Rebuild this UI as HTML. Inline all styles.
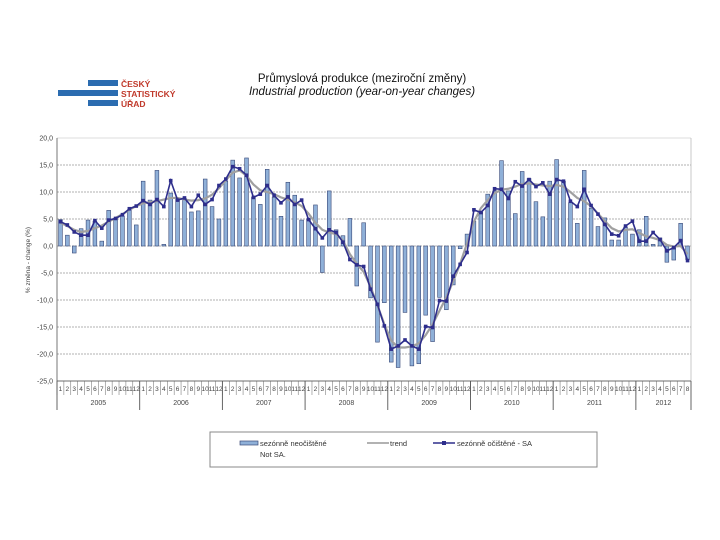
<!DOCTYPE html>
<html><head><meta charset="utf-8"><style>
body{margin:0;background:#fff;width:720px;height:540px;overflow:hidden;font-family:"Liberation Sans",sans-serif}
svg{position:absolute;left:0;top:0}
</style></head><body>
<svg id="c" width="720" height="540">
<g>
<rect x="88" y="80" width="30" height="6" fill="#2b6cb0"/>
<rect x="58" y="90" width="60" height="6" fill="#2b6cb0"/>
<rect x="88" y="100" width="30" height="6" fill="#2b6cb0"/>
<text x="121" y="87" font-size="8.5" font-weight="bold" fill="#c0392b">ČESKÝ</text>
<text x="121" y="97" font-size="8.5" font-weight="bold" fill="#c0392b">STATISTICKÝ</text>
<text x="121" y="107" font-size="8.5" font-weight="bold" fill="#c0392b">ÚŘAD</text>
</g>
<text x="362" y="82" font-size="11.5" text-anchor="middle" fill="#111">Průmyslová produkce (meziroční změny)</text>
<text x="362" y="95" font-size="11.5" font-style="italic" text-anchor="middle" fill="#111">Industrial production (year-on-year changes)</text>
<text transform="translate(30,260) rotate(-90)" font-size="6.5" text-anchor="middle" fill="#444">% změna - change (%)</text>
<g id="plot"></g>
<g>
<rect x="210" y="432" width="387" height="35" fill="#fff" stroke="#888"/>
<rect x="240" y="441" width="18" height="4" fill="#8fb0d8" stroke="#3a4a78" stroke-width="0.7"/>
<text x="260" y="446" font-size="7.5" fill="#333">sezónně neočištěné</text>
<text x="260" y="457" font-size="7.5" fill="#333">Not SA.</text>
<line x1="367" y1="443" x2="389" y2="443" stroke="#999" stroke-width="1.5"/>
<text x="390" y="446" font-size="7.5" fill="#333">trend</text>
<line x1="433" y1="443" x2="455" y2="443" stroke="#2e2e8c" stroke-width="1.5"/>
<rect x="442" y="441" width="4" height="4" fill="#2e2e8c"/>
<text x="457" y="446" font-size="7.5" fill="#333">sezónně očištěné - SA</text>
</g>
</svg>
<script>
const years=["2005","2006","2007","2008","2009","2010","2011","2012"];
const yTicks=[20,15,10,5,0,-5,-10,-15,-20,-25];
const nsa=[4.9,2.0,-1.3,3.2,4.8,4.6,0.9,6.6,5.1,5.5,6.7,3.9,
12.0,8.5,14.0,0.3,9.8,8.8,8.8,6.3,6.5,12.4,7.3,5.0,
12.0,15.9,12.6,16.3,9.0,7.7,14.2,9.0,5.5,11.8,9.4,4.8,
5.0,7.6,-4.9,10.2,3.0,1.9,5.1,-7.4,4.3,-9.6,-17.8,-10.5,
-21.5,-22.5,-12.3,-22.2,-21.8,-12.8,-17.7,-9.5,-11.8,-7.2,-0.5,2.2,
4.6,6.3,9.6,10.2,15.8,10.2,6.0,13.8,12.5,8.2,5.4,12.0,
16.0,12.0,8.0,4.2,14.0,7.0,3.6,5.2,1.1,1.1,3.5,2.2,
3.0,5.5,0.3,1.5,-3.0,-2.6,4.2,-2.5];
const sa=[4.5,3.9,2.6,2.0,2.0,4.7,3.3,4.8,5.1,5.8,6.9,7.4,
8.4,7.7,8.6,7.3,12.1,8.5,8.9,7.3,9.4,7.7,8.6,11.2,
12.4,14.7,14.3,13.1,9.0,9.6,11.2,9.4,8.0,9.1,7.7,8.5,
4.9,3.2,1.5,3.0,2.5,0.7,-2.5,-3.5,-3.8,-8.0,-10.8,-14.8,
-19.1,-18.5,-17.4,-18.5,-19.1,-14.9,-15.1,-10.1,-10.2,-5.6,-3.4,-1.2,
6.7,6.2,7.5,10.6,10.5,8.8,11.9,11.1,12.3,11.0,11.7,9.6,
12.3,12.0,8.3,7.3,10.5,7.5,5.9,4.0,2.2,1.9,3.7,4.6,
0.9,0.9,2.5,1.2,-0.9,-0.3,1.0,-2.7];
const trend=[4.3,3.7,3.0,2.6,2.8,3.3,3.8,4.5,5.2,5.9,6.7,7.4,
7.9,8.1,8.3,8.6,8.9,8.9,8.6,8.4,8.5,8.8,9.5,10.7,
12.2,13.6,14.0,13.0,11.4,10.3,10.0,9.6,9.0,8.6,8.1,7.4,
6.0,4.3,3.0,2.5,2.2,1.0,-1.5,-3.3,-4.8,-7.5,-11.0,-14.5,
-17.5,-18.8,-18.8,-18.6,-18.0,-16.5,-14.5,-12.0,-9.5,-6.5,-3.3,0.5,
4.5,7.0,8.5,9.8,10.4,10.6,11.0,11.5,11.6,11.4,11.2,11.1,
11.3,11.0,10.0,8.9,8.3,7.4,6.0,4.6,3.3,2.7,3.0,3.1,
2.4,1.8,1.5,1.1,0.2,-0.1,0.0,-1.5];
const NS="http://www.w3.org/2000/svg";
const L=57,R=691,T=138,B=381,N=nsa.length;
const step=(R-L)/N;
function xPos(i){return L+(i+0.5)*step;}
function yPos(v){return T+(20-v)*(B-T)/45;}
const g=document.getElementById('plot');
function mk(tag,attrs){const e=document.createElementNS(NS,tag);for(const k in attrs)e.setAttribute(k,attrs[k]);g.appendChild(e);return e;}
yTicks.forEach(v=>{
 const ln=mk('line',{x1:L,x2:R,y1:yPos(v),y2:yPos(v),stroke:v==20?'#bbb':'#666','stroke-width':0.6,'stroke-dasharray':v==20||v==-25?'':'2,1'});
 
 
 const t=mk('text',{x:L-4,y:yPos(v)+2.5,'font-size':7,'text-anchor':'end',fill:'#444'});
 t.textContent=v.toFixed(1).replace('.',',');
 
 
});
const rb=mk('line',{x1:R,x2:R,y1:T,y2:B,stroke:'#bbb','stroke-width':0.8});


const bw=step*0.55;
nsa.forEach((v,i)=>{
 const y0=yPos(0),y1=yPos(v);
 const r=mk('rect',{x:xPos(i)-bw/2,y:Math.min(y0,y1),width:bw,height:Math.abs(y1-y0),fill:'#8fb0d8',stroke:'#3a4a78','stroke-width':0.6});
 
 
});
const tp=mk('polyline',{points:trend.map((v,i)=>xPos(i)+','+yPos(v)).join(' '),fill:'none',stroke:'#a0a0a0','stroke-width':2.2});


const sp=mk('polyline',{points:sa.map((v,i)=>xPos(i)+','+yPos(v)).join(' '),fill:'none',stroke:'#2e2e8c','stroke-width':1.6});


sa.forEach((v,i)=>{
 const m=mk('rect',{x:xPos(i)-1.8,y:yPos(v)-1.8,width:3.6,height:3.6,fill:'#2e2e8c'});
 
 
});
const ax=mk('line',{x1:L,x2:L,y1:T,y2:B,stroke:'#555','stroke-width':0.8});


const xa=mk('line',{x1:L,x2:R,y1:B,y2:B,stroke:'#555','stroke-width':0.8});


for(let i=0;i<N;i++){
 const tk=mk('line',{x1:L+i*step,x2:L+i*step,y1:B,y2:B+14,stroke:'#666','stroke-width':0.5});
 
 
 const t=mk('text',{x:xPos(i),y:B+10,'font-size':6.5,'text-anchor':'middle',fill:'#444'});
 t.textContent=String(i%12+1);
 
 
}
years.forEach((y,k)=>{
 const s=k*12,e=Math.min(N,s+12);
 const tk=mk('line',{x1:L+s*step,x2:L+s*step,y1:B,y2:B+29,stroke:'#555','stroke-width':0.9});
 
 
 const t=mk('text',{x:L+(s+e)/2*step,y:B+24,'font-size':7,'text-anchor':'middle',fill:'#444'});
 t.textContent=y;
 
 
});
const et=mk('line',{x1:R,x2:R,y1:B,y2:B+29,stroke:'#555','stroke-width':0.9});


</script>
</body></html>
